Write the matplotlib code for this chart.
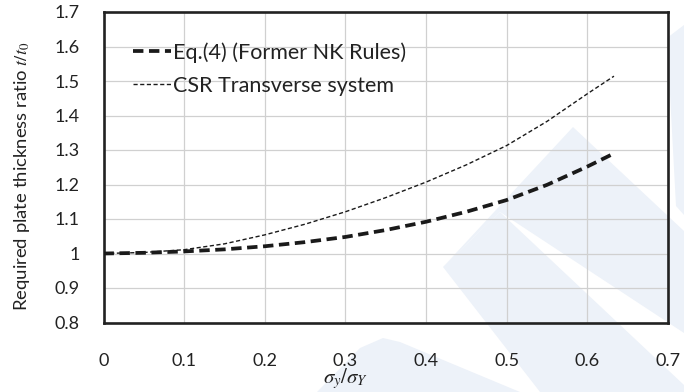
import matplotlib
matplotlib.use("Agg")
import matplotlib.pyplot as plt
from matplotlib.patches import Polygon

# ---- data ----
sigma_ratio = [0, 0.05, 0.1, 0.15, 0.2, 0.25, 0.3, 0.35, 0.4, 0.45, 0.5, 0.55, 0.6, 0.633]
nk_rules = [1.0, 1.002, 1.006, 1.012, 1.021, 1.033, 1.048, 1.068, 1.092, 1.121, 1.155, 1.199, 1.252, 1.290]
csr_transverse = [1.0, 1.003, 1.011, 1.028, 1.054, 1.085, 1.121, 1.162, 1.207, 1.257, 1.313, 1.383, 1.463, 1.514]
series_labels = ["Eq.(4) (Former NK Rules)", "CSR Transverse system"]
x_ticks = [0, 0.1, 0.2, 0.3, 0.4, 0.5, 0.6, 0.7]
x_tick_labels = ["0", "0.1", "0.2", "0.3", "0.4", "0.5", "0.6", "0.7"]
y_ticks = [0.8, 0.9, 1.0, 1.1, 1.2, 1.3, 1.4, 1.5, 1.6, 1.7]
y_tick_labels = ["0.8", "0.9", "1", "1.1", "1.2", "1.3", "1.4", "1.5", "1.6", "1.7"]

plt.rcParams['font.family'] = ['Lato', 'DejaVu Sans']
plt.rcParams['mathtext.fontset'] = 'stix'
plt.rcParams['lines.scale_dashes'] = False

W, H = 684, 392
fig = plt.figure(figsize=(W / 100, H / 100), dpi=100)
fig.patch.set_facecolor('white')

def px(x, y):
    return (x / W, 1 - y / H)

# faint watermark shapes in the background
wm = '#edf2f9'
shapes = [
    [(443, 267), (500, 212), (684, 385), (684, 392), (540, 392)],
    [(443, 267), (573, 127), (684, 231), (684, 333), (500, 212)],
    [(667, 38), (684, 25), (684, 215), (676, 206)],
    [(317, 392), (360, 348), (383, 338), (400, 342), (520, 392)],
]
for s in shapes:
    fig.patches.append(Polygon([px(a, b) for a, b in s], closed=True, transform=fig.transFigure,
                               facecolor=wm, edgecolor='none', zorder=-10))

ax = fig.add_axes([103.5 / W, 1 - 322.5 / H, (668 - 103.5) / W, (322.5 - 12) / H])
ax.set_facecolor('none')

ax.plot(sigma_ratio, nk_rules, color='#1a1a1a', lw=2.7, dashes=(7.5, 4.0),
        label=series_labels[0], zorder=3)
ax.plot(sigma_ratio, csr_transverse, color='#1a1a1a', lw=1.0, dashes=(3.0, 1.8),
        label=series_labels[1], zorder=3)

ax.set_xlim(0, 0.7)
ax.set_ylim(0.8, 1.7)
ax.set_xticks(x_ticks)
ax.set_xticklabels(x_tick_labels)
ax.set_yticks(y_ticks)
ax.set_yticklabels(y_tick_labels)
ax.tick_params(length=0, labelsize=13, colors='#222222')
ax.tick_params(axis='x', pad=22)
ax.tick_params(axis='y', pad=17)
ax.grid(True, color='#d0d0d0', lw=0.9)
ax.set_axisbelow(True)
for sp in ax.spines.values():
    sp.set_linewidth(1.9)
    sp.set_color('#222222')

fig.text(22 / W, 1 - 176 / H, "Required plate thickness ratio $t/t_0$", rotation=90,
         ha='center', va='center', fontsize=13.3, color='#222222')
fig.text(346 / W, 1 - 379 / H, r"$\sigma_y/\sigma_Y$", ha='center', va='center',
         fontsize=15, color='#222222')

leg = ax.legend(loc='upper left', bbox_to_anchor=px(133, 42), bbox_transform=fig.transFigure,
                frameon=False, fontsize=15.5, handlelength=1.75, handletextpad=0.12,
                labelspacing=0.6, borderpad=0, borderaxespad=0)
for t in leg.get_texts():
    t.set_color('#222222')

fig.savefig('out.png', dpi=100)
